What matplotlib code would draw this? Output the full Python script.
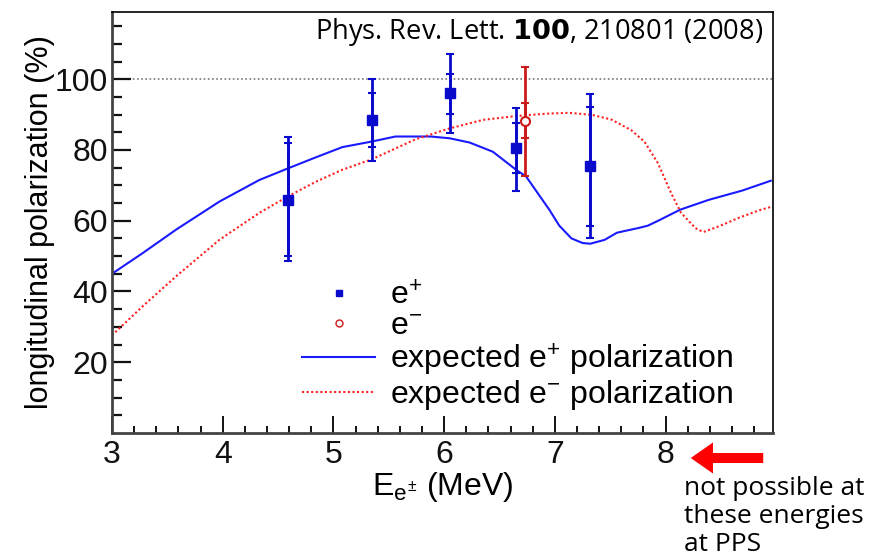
import matplotlib
matplotlib.use("Agg")
import matplotlib.pyplot as plt
from matplotlib.lines import Line2D

plt.rcParams['font.family'] = ['Liberation Sans', 'DejaVu Sans']
plt.rcParams['mathtext.fontset'] = 'custom'
plt.rcParams['mathtext.rm'] = 'Liberation Sans'
plt.rcParams['mathtext.it'] = 'Liberation Sans'

# measured e+ polarization (square markers), inner = stat, outer = total error
pos_E = [4.59, 5.35, 6.05, 6.65, 7.32]
pos_P = [65.9, 88.5, 96.1, 80.5, 75.5]
pos_in_hi = [82.1, 96.2, 101.6, 87.5, 92.2]
pos_in_lo = [50.1, 80.8, 90.3, 73.4, 58.6]
pos_out_hi = [83.8, 100.0, 107.2, 91.9, 95.8]
pos_out_lo = [48.5, 76.9, 84.9, 68.5, 55.1]

# measured e- polarization (open circle)
ele_E = [6.73]
ele_P = [88.2]
ele_in_hi = [93.2]
ele_in_lo = [83.3]
ele_out_hi = [103.5]
ele_out_lo = [72.7]

# expected polarization curves
exp_pos_E = [3.0, 3.28, 3.58, 3.97, 4.33, 4.59, 4.84, 5.08, 5.35, 5.56, 5.88, 6.05,
             6.23, 6.44, 6.65, 6.74, 6.95, 7.04, 7.15, 7.25, 7.32, 7.45, 7.56, 7.66,
             7.75, 7.84, 7.94, 8.13, 8.39, 8.69, 8.95]
exp_pos_P = [45.0, 50.9, 57.5, 65.4, 71.5, 74.8, 77.9, 80.8, 82.4, 83.8, 83.8, 83.3,
             82.1, 79.5, 74.4, 72.5, 63.1, 58.6, 55.0, 53.7, 53.5, 54.6, 56.6, 57.3,
             57.9, 58.6, 60.1, 63.1, 65.9, 68.5, 71.3]

exp_ele_E = [3.0, 3.28, 3.58, 3.97, 4.33, 4.59, 4.84, 5.08, 5.35, 5.74, 6.05, 6.35,
             6.65, 6.95, 7.13, 7.34, 7.51, 7.69, 7.81, 7.93, 8.05, 8.14, 8.27, 8.34,
             8.48, 8.66, 8.84, 8.95]
exp_ele_P = [27.6, 35.9, 44.3, 54.6, 62.2, 66.9, 71.0, 74.4, 77.4, 83.0, 86.1, 88.5,
             89.6, 90.3, 90.5, 89.9, 88.6, 85.6, 82.3, 76.3, 67.8, 62.2, 57.9, 56.8,
             58.4, 60.8, 62.9, 63.9]

fig = plt.figure(figsize=(8.81, 5.60), dpi=100)
ax = fig.add_axes([0.1271, 0.2268, 0.7503, 0.7518])

blue_pts = '#0a0acc'
red_pts = '#cc1a1a'

ax.axhline(100, color='#777777', lw=1.2, ls=(0, (1, 1.5)), zorder=1)

ax.plot(exp_pos_E, exp_pos_P, color='#1a1aff', lw=1.5, zorder=2)
ax.plot(exp_ele_E, exp_ele_P, color='#ff2020', lw=1.5, ls=(0, (1, 1.2)), zorder=2)

def draw_errors(E, P, in_lo, in_hi, out_lo, out_hi, col):
    out_err = [[p - lo for p, lo in zip(P, out_lo)], [hi - p for p, hi in zip(P, out_hi)]]
    in_err = [[p - lo for p, lo in zip(P, in_lo)], [hi - p for p, hi in zip(P, in_hi)]]
    ax.errorbar(E, P, yerr=out_err, fmt='none', ecolor=col, elinewidth=2,
                capsize=3, capthick=1.5, zorder=3)
    ax.errorbar(E, P, yerr=in_err, fmt='none', ecolor=col, elinewidth=2,
                capsize=3, capthick=1.5, zorder=3)

draw_errors(pos_E, pos_P, pos_in_lo, pos_in_hi, pos_out_lo, pos_out_hi, blue_pts)
draw_errors(ele_E, ele_P, ele_in_lo, ele_in_hi, ele_out_lo, ele_out_hi, red_pts)
ax.plot(pos_E, pos_P, 's', color=blue_pts, ms=6.5, zorder=4)
ax.plot(ele_E, ele_P, 'o', mfc='white', mec=red_pts, mew=1.5, ms=6.5, zorder=4)

ax.set_xlim(3, 8.97)
ax.set_ylim(0, 119)
ax.set_xticks([3, 4, 5, 6, 7, 8])
ax.set_xticks([3 + 0.2 * i for i in range(30)], minor=True)
ax.set_yticks([20, 40, 60, 80, 100])
ax.set_yticks(list(range(5, 119, 5)), minor=True)
ax.tick_params(axis='both', which='both', direction='in', top=False, right=False,
               labelsize=23, colors='#111111')
ax.tick_params(axis='y', which='major', length=14, width=1.6, pad=3)
ax.tick_params(axis='y', which='minor', length=7, width=1.6)
ax.tick_params(axis='x', which='major', length=12, width=1.4, pad=5)
ax.tick_params(axis='x', which='minor', length=5, width=1.4)
for s in ['left', 'bottom']:
    ax.spines[s].set_linewidth(2)
    ax.spines[s].set_color('#444444')
for s in ['top', 'right']:
    ax.spines[s].set_linewidth(1.2)

ax.set_ylabel('longitudinal polarization (%)', fontsize=22, labelpad=0)
ax.set_xlabel(r'E$_{e^{\pm}}$ (MeV)', fontsize=23, labelpad=0)

ax.text(0.985, 0.99, r'Phys. Rev. Lett. $\mathbf{100}$, 210801 (2008)', transform=ax.transAxes,
        ha='right', va='top', fontsize=19.6, family=['Open Sans', 'DejaVu Sans'])

handles = [
    Line2D([], [], ls='none', marker='s', color=blue_pts, ms=5),
    Line2D([], [], ls='none', marker='o', mfc='white', mec=red_pts, ms=5),
    Line2D([], [], color='#1a1aff', lw=1.5),
    Line2D([], [], color='#ff2020', lw=1.5, ls=(0, (1, 1.2))),
]
labels = [r'e$^{+}$', r'e$^{-}$', r'expected e$^{+}$ polarization', r'expected e$^{-}$ polarization']
ax.legend(handles, labels, loc='upper left', bbox_to_anchor=(0.268, 0.39), frameon=False,
          fontsize=23, handlelength=2.3, handletextpad=0.47, labelspacing=0.0, borderaxespad=0)

ax.annotate('', xy=(688, 102), xytext=(766, 102), xycoords='figure pixels',
            textcoords='figure pixels',
            arrowprops=dict(arrowstyle='simple,head_length=1.0,head_width=1.4,tail_width=0.45',
                            color='#ff0000', lw=0, mutation_scale=16))
fig.text(684 / 881, 1 - 476 / 560, 'not possible at\nthese energies\nat PPS', ha='left', va='top',
         fontsize=19, linespacing=1.17, family=['Open Sans', 'DejaVu Sans'])

fig.savefig('out.png', dpi=100)
